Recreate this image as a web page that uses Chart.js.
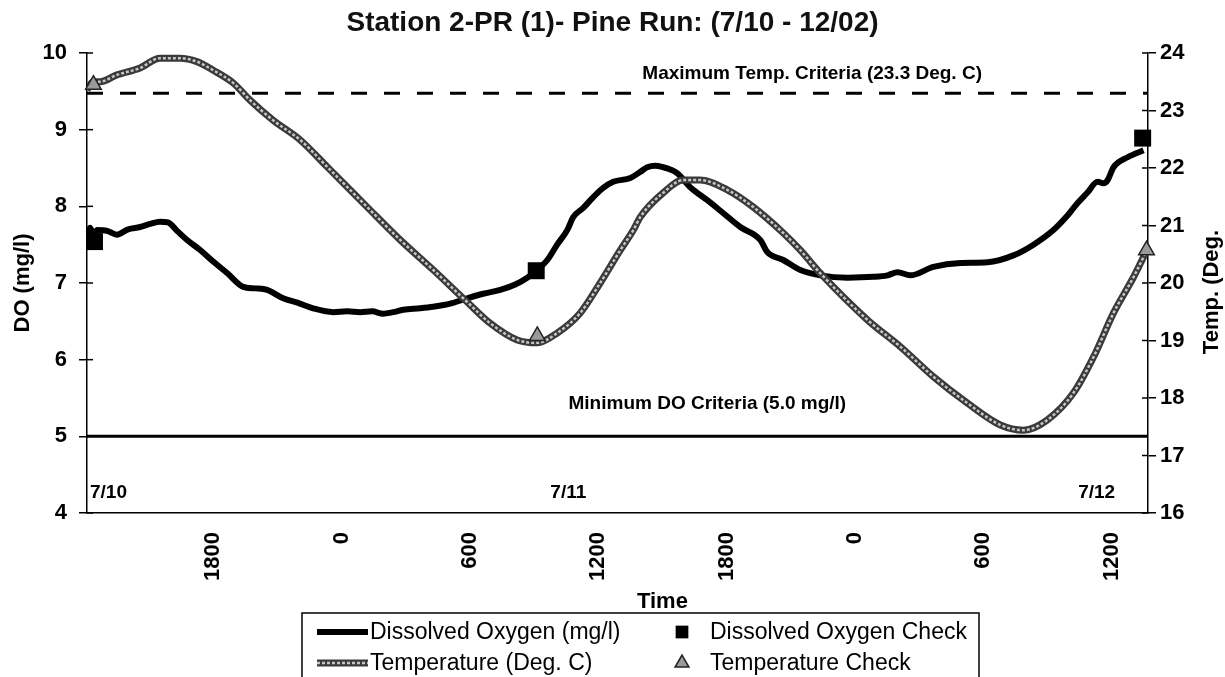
<!DOCTYPE html>
<html>
<head>
<meta charset="utf-8">
<title>Station 2-PR (1)- Pine Run</title>
<script src="https://cdn.jsdelivr.net/npm/chart.js@4.4.1/dist/chart.umd.min.js"></script>
<style>
  html, body { margin: 0; padding: 0; background: #fff; }
  #wrap { width: 1225px; height: 677px; }
</style>
</head>
<body>
<div id="wrap"><canvas id="chart" width="1225" height="677"></canvas></div>
<script>
// Station 2-PR (1) - Pine Run, DO / temperature logger
// time axis is in hours counted from 7/10 00:00

const FONT = 'Arial, "Liberation Sans", Helvetica, sans-serif';

const timeMin = 12.1;
const timeMax = 61.7;
const timeTicks = [18, 24, 30, 36, 42, 48, 54, 60];
const timeTickLabels = ['1800', '0', '600', '1200', '1800', '0', '600', '1200'];

const doTime = [12.10, 12.24, 12.43, 12.57, 13.04, 13.50, 14.02, 14.58, 15.05, 15.51, 15.89, 16.31, 16.78, 17.39,
  18.00, 18.65, 19.40, 19.96, 20.52, 21.27, 21.97, 22.67, 23.61, 24.26, 24.87, 25.43, 25.94, 26.41, 26.88,
  27.68, 28.28, 29.08, 29.87, 30.62, 31.42, 32.12, 32.68, 33.15, 33.62, 34.08, 34.55, 34.83, 35.30, 35.77,
  36.23, 36.70, 37.50, 37.97, 38.29, 38.67, 39.04, 39.37, 39.70, 40.30, 41.10, 41.85, 42.64, 43.58, 43.91,
  44.65, 45.45, 46.38, 47.65, 48.86, 49.52, 49.99, 50.59, 51.67, 52.93, 54.20, 55.41, 56.35, 57.28, 57.84,
  58.40, 58.87, 59.34, 59.62, 59.81, 60.09, 60.75, 61.49];
const doValue = [7.50, 7.72, 7.62, 7.69, 7.68, 7.63, 7.70, 7.73, 7.77, 7.80, 7.79, 7.68, 7.56, 7.43,
  7.28, 7.13, 6.95, 6.93, 6.91, 6.80, 6.74, 6.67, 6.62, 6.63, 6.62, 6.63, 6.60, 6.62, 6.65,
  6.67, 6.69, 6.73, 6.80, 6.86, 6.91, 6.98, 7.07, 7.17, 7.30, 7.50, 7.69, 7.86, 7.98, 8.12,
  8.24, 8.32, 8.37, 8.45, 8.51, 8.53, 8.51, 8.48, 8.43, 8.25, 8.08, 7.91, 7.73, 7.56, 7.40,
  7.30, 7.17, 7.10, 7.07, 7.08, 7.10, 7.14, 7.10, 7.21, 7.26, 7.27, 7.36, 7.50, 7.69, 7.85,
  8.04, 8.18, 8.32, 8.30, 8.34, 8.51, 8.64, 8.73];

const tempTime = [12.10, 12.38, 12.71, 13.50, 14.58, 15.51, 16.45, 17.24, 18.00, 18.93, 19.72, 20.80,
  22.06, 23.33, 25.20, 26.74, 28.28, 29.87, 30.95, 32.21, 33.15, 34.08, 35.16, 36.09, 37.03, 37.64,
  37.97, 39.04, 39.98, 40.77, 42.03, 43.25, 44.65, 45.45, 46.38, 48.58, 50.13, 51.67, 53.26, 54.80,
  55.88, 57.00, 58.22, 59.15, 60.09, 61.02, 61.58];
const tempValue = [23.36, 23.50, 23.50, 23.62, 23.74, 23.91, 23.91, 23.85, 23.70, 23.48, 23.18, 22.83,
  22.49, 22.02, 21.32, 20.75, 20.23, 19.67, 19.30, 19.01, 18.96, 19.13, 19.48, 20.00, 20.57, 20.92,
  21.15, 21.57, 21.79, 21.79, 21.62, 21.32, 20.87, 20.57, 20.17, 19.36, 18.89, 18.37, 17.91, 17.53,
  17.44, 17.62, 18.09, 18.71, 19.48, 20.10, 20.52];

const doCheckTime = [12.45, 33.10, 61.45];
const doCheckValue = [7.54, 7.16, 8.89];
const tempCheckTime = [12.40, 33.15, 61.63];
const tempCheckValue = [23.45, 19.08, 20.57];

const maxTempCriteria = 23.3;
const minDoCriteria = 5.0;

function pairs(xs, ys) {
  return xs.map((x, i) => ({ x: x, y: ys[i] }));
}

// light speckle stroked over the temperature line, following the library's own curve points
const tempTexture = {
  id: 'tempTexture',
  afterDatasetDraw(chart, args) {
    if (!chart.data.datasets[args.index].textured) return;
    const ctx = chart.ctx;
    const pts = args.meta.data;
    ctx.save();
    ctx.beginPath();
    pts.forEach((p, i) => {
      if (i === 0) { ctx.moveTo(p.x, p.y); return; }
      const prev = pts[i - 1];
      if (prev.cp2x !== undefined && p.cp1x !== undefined) {
        ctx.bezierCurveTo(prev.cp2x, prev.cp2y, p.cp1x, p.cp1y, p.x, p.y);
      } else {
        ctx.lineTo(p.x, p.y);
      }
    });
    ctx.strokeStyle = '#c6c6c6';
    ctx.lineWidth = 2.5;
    ctx.lineJoin = 'round';
    ctx.setLineDash([3, 2]);
    ctx.stroke();
    ctx.restore();
  }
};

// Excel style cross ticks: inner half of the y tick marks
const innerTicks = {
  id: 'innerTicks',
  afterDraw(chart) {
    const ctx = chart.ctx;
    const a = chart.chartArea;
    ctx.save();
    ctx.strokeStyle = '#000';
    ctx.lineWidth = 1.5;
    ['y', 'y1'].forEach(id => {
      const s = chart.scales[id];
      const x0 = id === 'y' ? a.left : a.right;
      const dir = id === 'y' ? 1 : -1;
      s.ticks.forEach(t => {
        const py = s.getPixelForValue(t.value);
        ctx.beginPath();
        ctx.moveTo(x0, py);
        ctx.lineTo(x0 + dir * 6, py);
        ctx.stroke();
      });
    });
    ctx.restore();
  }
};

// text labels inside the plot, right axis title and x axis title
const notes = {
  id: 'notes',
  afterDraw(chart) {
    const ctx = chart.ctx;
    const x = chart.scales.x, y = chart.scales.y, y1 = chart.scales.y1;
    const a = chart.chartArea;
    ctx.save();
    ctx.fillStyle = '#000';
    ctx.textBaseline = 'middle';
    ctx.textAlign = 'center';

    ctx.font = 'bold 19px ' + FONT;
    ctx.fillText('Maximum Temp. Criteria (23.3 Deg. C)', x.getPixelForValue(46.0), y1.getPixelForValue(maxTempCriteria) - 19);
    ctx.fillText('Minimum DO Criteria (5.0 mg/l)', x.getPixelForValue(41.1), y.getPixelForValue(minDoCriteria) - 33);

    const dayY = y.getPixelForValue(4) - 20;
    ctx.textAlign = 'left';
    ctx.fillText('7/10', a.left + 3, dayY);
    ctx.textAlign = 'center';
    ctx.fillText('7/11', x.getPixelForValue(34.6), dayY);
    ctx.fillText('7/12', x.getPixelForValue(59.3), dayY);

    ctx.font = 'bold 22px ' + FONT;
    ctx.fillText('Time', x.getPixelForValue(39.0), a.bottom + 89);

    ctx.translate(chart.width - 13, (a.top + a.bottom) / 2 + 9);
    ctx.rotate(-Math.PI / 2);
    ctx.fillText('Temp. (Deg.', 0, 0);
    ctx.restore();
  }
};

// boxed two-column legend under the chart
const boxLegend = {
  id: 'boxLegend',
  afterDraw(chart) {
    const ctx = chart.ctx;
    const ds = chart.data.datasets;
    const rows = [632, 663];
    ctx.save();
    ctx.strokeStyle = '#000';
    ctx.lineWidth = 1.5;
    ctx.strokeRect(302, 613, 677, 90);

    ctx.font = '23px ' + FONT;
    ctx.fillStyle = '#000';
    ctx.textBaseline = 'middle';
    ctx.textAlign = 'left';

    [ds[3], ds[2]].forEach((d, r) => {
      ctx.beginPath();
      ctx.moveTo(317, rows[r]);
      ctx.lineTo(368, rows[r]);
      ctx.strokeStyle = d.borderColor;
      ctx.lineWidth = d.borderWidth;
      ctx.stroke();
      if (d.textured) {
        ctx.save();
        ctx.strokeStyle = '#c6c6c6';
        ctx.lineWidth = 2.5;
        ctx.setLineDash([3, 2]);
        ctx.stroke();
        ctx.restore();
      }
      ctx.fillStyle = '#000';
      ctx.fillText(d.label, 370, rows[r] + 1);
    });

    [ds[0], ds[1]].forEach((d, r) => {
      ctx.fillStyle = d.pointBackgroundColor;
      ctx.strokeStyle = d.pointBorderColor;
      ctx.lineWidth = d.pointBorderWidth;
      Chart.helpers.drawPoint(ctx, {
        pointStyle: d.pointStyle, radius: r === 0 ? 9 : 8, borderWidth: d.pointBorderWidth, rotation: 0
      }, 682, rows[r]);
      ctx.fillStyle = '#000';
      ctx.fillText(d.label, 710, rows[r] + 1);
    });
    ctx.restore();
  }
};

new Chart(document.getElementById('chart'), {
  type: 'line',
  data: {
    datasets: [
      {
        label: 'Dissolved Oxygen Check',
        data: pairs(doCheckTime, doCheckValue),
        yAxisID: 'y', showLine: false, clip: false,
        pointStyle: 'rect', pointRadius: 12,
        pointBackgroundColor: '#000', pointBorderColor: '#000', pointBorderWidth: 0
      },
      {
        label: 'Temperature Check',
        data: pairs(tempCheckTime, tempCheckValue),
        yAxisID: 'y1', showLine: false, clip: false,
        pointStyle: 'triangle', pointRadius: 9,
        pointBackgroundColor: '#9a9a9a', pointBorderColor: '#222', pointBorderWidth: 1.5
      },
      {
        label: 'Temperature (Deg. C)',
        data: pairs(tempTime, tempValue),
        yAxisID: 'y1', textured: true,
        borderColor: '#3a3a3a', borderWidth: 7, pointRadius: 0,
        cubicInterpolationMode: 'monotone'
      },
      {
        label: 'Dissolved Oxygen (mg/l)',
        data: pairs(doTime, doValue),
        yAxisID: 'y',
        borderColor: '#000', borderWidth: 6, pointRadius: 0,
        cubicInterpolationMode: 'monotone'
      },
      {
        label: 'Maximum Temp. Criteria (23.3 Deg. C)',
        data: pairs([timeMin, timeMax], [maxTempCriteria, maxTempCriteria]),
        yAxisID: 'y1',
        borderColor: '#000', borderWidth: 3, borderDash: [16, 17], pointRadius: 0
      },
      {
        label: 'Minimum DO Criteria (5.0 mg/l)',
        data: pairs([timeMin, timeMax], [minDoCriteria, minDoCriteria]),
        yAxisID: 'y',
        borderColor: '#000', borderWidth: 3, pointRadius: 0
      }
    ]
  },
  options: {
    responsive: false,
    devicePixelRatio: 1,
    animation: false,
    events: [],
    layout: { padding: 0 },
    plugins: {
      legend: { display: false },
      tooltip: { enabled: false },
      title: {
        display: true,
        text: 'Station 2-PR (1)- Pine Run: (7/10 - 12/02)',
        color: '#111',
        font: { family: FONT, size: 28, weight: 'bold' },
        padding: { top: 6, bottom: 13.4 }
      }
    },
    scales: {
      x: {
        type: 'linear',
        min: timeMin,
        max: timeMax,
        afterBuildTicks: s => { s.ticks = timeTicks.map(v => ({ value: v })); },
        afterFit: s => { s.height = 164; },
        grid: { drawOnChartArea: false, drawTicks: false },
        border: { display: true, color: '#000', width: 1.5 },
        ticks: {
          autoSkip: false,
          minRotation: 90,
          maxRotation: 90,
          padding: 19,
          color: '#000',
          font: { family: FONT, size: 22, weight: 'bold' },
          callback: v => timeTickLabels[timeTicks.indexOf(v)]
        }
      },
      y: {
        position: 'left',
        min: 4,
        max: 10,
        afterFit: s => { s.width = 87; },
        grid: { drawOnChartArea: false, drawTicks: true, tickLength: 8, color: '#000', lineWidth: 1.5 },
        border: { display: true, color: '#000', width: 1.5 },
        ticks: {
          stepSize: 1,
          padding: 12,
          color: '#000',
          font: { family: FONT, size: 22, weight: 'bold' }
        },
        title: {
          display: true,
          text: 'DO (mg/l)',
          color: '#000',
          font: { family: FONT, size: 22, weight: 'bold' },
          padding: { top: 10, bottom: 0 }
        }
      },
      y1: {
        position: 'right',
        min: 16,
        max: 24,
        afterFit: s => { s.width = 77; },
        grid: { drawOnChartArea: false, drawTicks: true, tickLength: 8, color: '#000', lineWidth: 1.5 },
        border: { display: true, color: '#000', width: 1.5 },
        ticks: {
          stepSize: 1,
          padding: 4,
          color: '#000',
          font: { family: FONT, size: 22, weight: 'bold' }
        }
      }
    }
  },
  plugins: [tempTexture, innerTicks, notes, boxLegend]
});
</script>
</body>
</html>
